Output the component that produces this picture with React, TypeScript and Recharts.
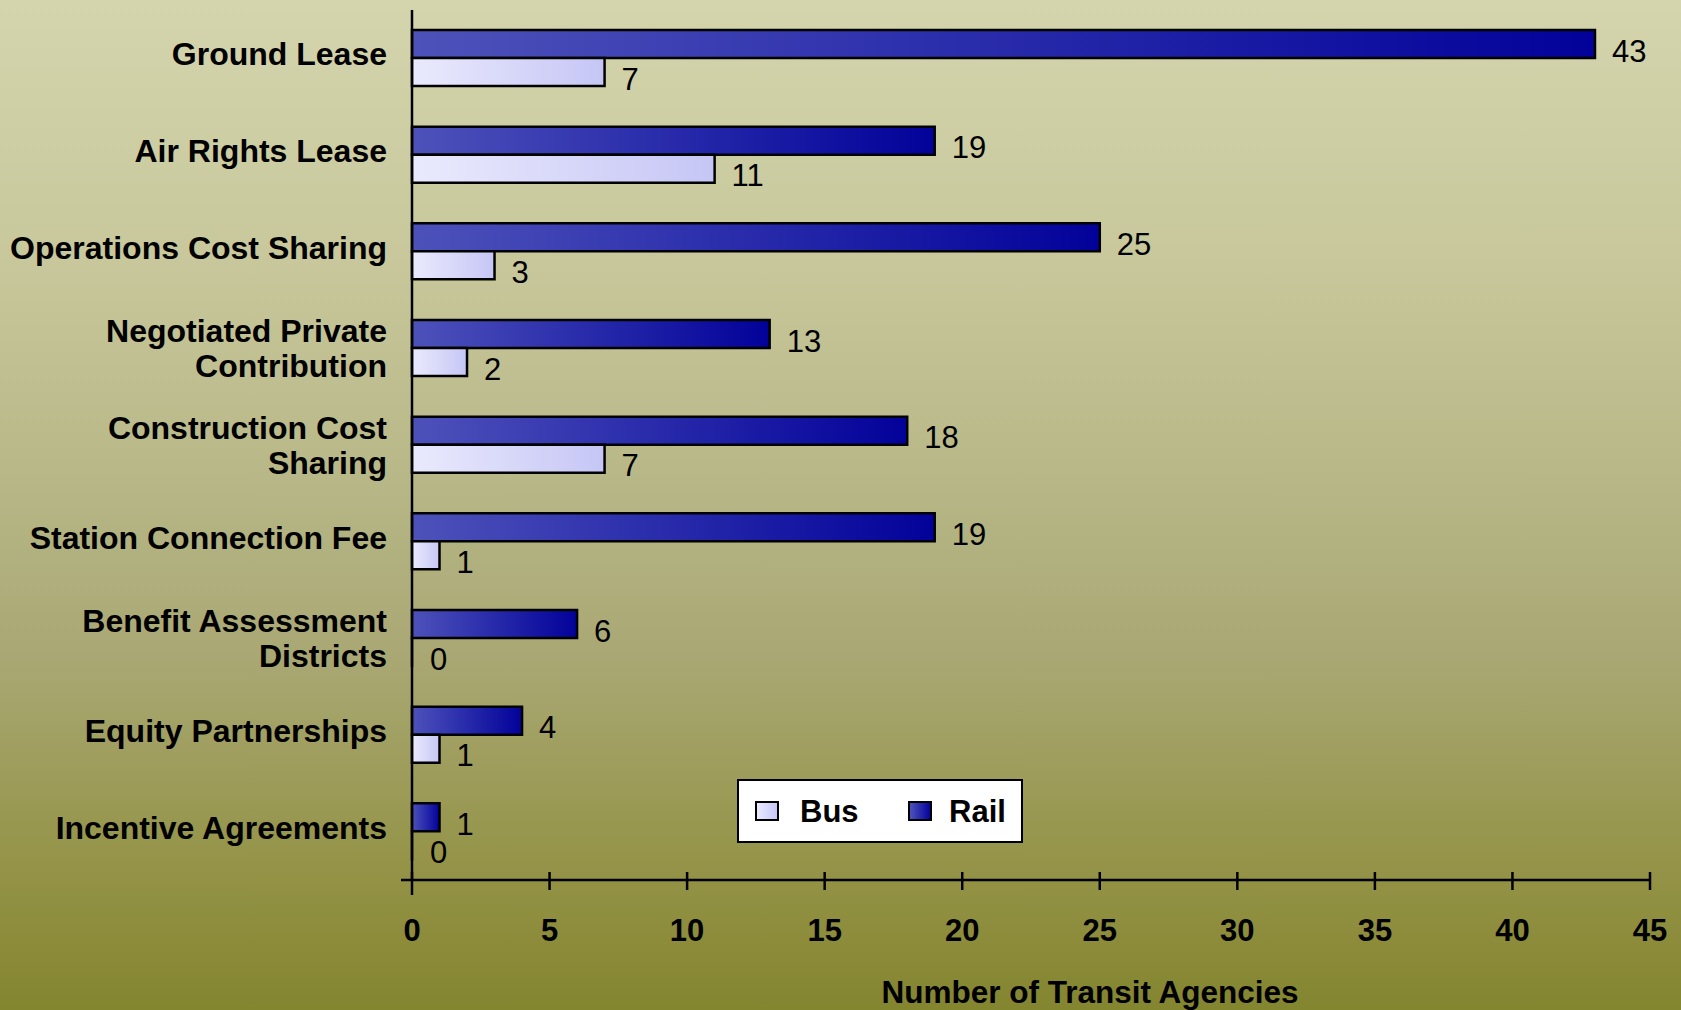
import { BarChart, Bar, XAxis, YAxis, Legend, LabelList } from 'recharts';

const categories = [
  'Ground Lease',
  'Air Rights Lease',
  'Operations Cost Sharing',
  'Negotiated Private Contribution',
  'Construction Cost Sharing',
  'Station Connection Fee',
  'Benefit Assessment Districts',
  'Equity Partnerships',
  'Incentive Agreements',
];

// how the long labels wrap in the original
const labelLines: Record<string, string[]> = {
  'Negotiated Private Contribution': ['Negotiated Private', 'Contribution'],
  'Construction Cost Sharing': ['Construction Cost', 'Sharing'],
  'Benefit Assessment Districts': ['Benefit Assessment', 'Districts'],
};

const railValues = [43, 19, 25, 13, 18, 19, 6, 4, 1];
const busValues = [7, 11, 3, 2, 7, 1, 0, 1, 0];
const xTicks = [0, 5, 10, 15, 20, 25, 30, 35, 40, 45];

const data = categories.map((name, i) => ({ name, rail: railValues[i], bus: busValues[i] }));

const FONT = '"Liberation Sans", Arial, sans-serif';

const CategoryTick = (props: any) => {
  const { x, y, payload } = props;
  const lines = labelLines[payload.value] || [payload.value];
  const lineH = 35;
  const startY = y - ((lines.length - 1) * lineH) / 2 + (lines.length === 1 ? -4 : 0);
  return (
    <text x={x} y={startY} textAnchor="end" fontFamily={FONT} fontSize={32} fontWeight="bold" fill="#000">
      {lines.map((l, i) => (
        <tspan key={l} x={x} y={startY + i * lineH} dominantBaseline="central">
          {l}
        </tspan>
      ))}
    </text>
  );
};

const ValueTick = (props: any) => {
  const { x, y, payload } = props;
  const isZero = payload.value === 0;
  return (
    <g>
      <line x1={x} x2={x} y1={y - 8} y2={y + (isZero ? 15 : 10)} stroke="#000" strokeWidth={2.5} />
      {isZero && <line x1={x - 11} x2={x} y1={y} y2={y} stroke="#000" strokeWidth={2.5} />}
      <text x={x} y={y + 61} textAnchor="middle" fontFamily={FONT} fontSize={31} fontWeight="bold" fill="#000">
        {payload.value}
      </text>
    </g>
  );
};

const ValueLabel = (props: any) => {
  const { x, y, width, height, value } = props;
  const off = value === 0 ? 18 : 17;
  return (
    <text
      x={x + (value === 0 ? 0 : width) + off}
      y={y + height / 2 + 7}
      dominantBaseline="central"
      fontFamily={FONT}
      fontSize={31}
      fill="#000"
    >
      {value}
    </text>
  );
};

const AxisTitle = (props: any) => {
  const { viewBox } = props;
  return (
    <text
      x={viewBox.x + viewBox.width / 2 + 59}
      y={viewBox.y + 123}
      textAnchor="middle"
      fontFamily={FONT}
      fontSize={31.5}
      fontWeight="bold"
      fill="#000"
    >
      Number of Transit Agencies
    </text>
  );
};

const swatch = (bg: string) => ({
  display: 'inline-block',
  width: 24,
  height: 20,
  boxSizing: 'border-box' as const,
  border: '2px solid #000',
  background: bg,
});

const renderLegend = () => (
  <div
    style={{
      width: 286,
      height: 64,
      boxSizing: 'border-box',
      background: '#fff',
      border: '2.5px solid #000',
      position: 'relative',
      fontFamily: FONT,
      fontSize: 31,
      fontWeight: 'bold',
    }}
  >
    <span style={{ ...swatch('linear-gradient(to right, #eaeafd, #c6c6f6)'), position: 'absolute', left: 16, top: 20 }} />
    <span style={{ position: 'absolute', left: 61, top: 13, lineHeight: '36px' }}>Bus</span>
    <span style={{ ...swatch('linear-gradient(to right, #4d52ba, #04049a)'), position: 'absolute', left: 169, top: 20 }} />
    <span style={{ position: 'absolute', left: 210, top: 13, lineHeight: '36px' }}>Rail</span>
  </div>
);

export default function App() {
  return (
    <div
      style={{
        position: 'absolute',
        left: 0,
        top: 0,
        width: 1681,
        height: 1010,
        overflow: 'hidden',
        background:
          'linear-gradient(to bottom, #d4d5ad 0%, #c8c89c 25%, #b9b98a 45%, #a9a874 65%, #959449 85%, #84852f 100%)',
      }}
    >
      <BarChart
        width={1681}
        height={1010}
        data={data}
        layout="vertical"
        margin={{ top: 10, right: 31, left: 0, bottom: 0 }}
        barGap={0}
        barSize={28}
      >
        <defs>
          <linearGradient id="railGrad" x1="0" y1="0" x2="1" y2="0">
            <stop offset="0%" stopColor="#4d52ba" />
            <stop offset="100%" stopColor="#02029a" />
          </linearGradient>
          <linearGradient id="busGrad" x1="0" y1="0" x2="1" y2="0">
            <stop offset="0%" stopColor="#eaeafd" />
            <stop offset="100%" stopColor="#c6c6f6" />
          </linearGradient>
        </defs>
        <XAxis
          type="number"
          domain={[0, 45]}
          ticks={xTicks}
          height={130}
          tickSize={0}
          tickMargin={0}
          tickLine={false}
          axisLine={{ stroke: '#000', strokeWidth: 2.5 }}
          tick={<ValueTick />}
          interval={0}
          label={<AxisTitle />}
        />
        <YAxis
          type="category"
          dataKey="name"
          width={412}
          tickSize={0}
          tickMargin={25}
          tickLine={false}
          axisLine={{ stroke: '#000', strokeWidth: 2.5 }}
          tick={<CategoryTick />}
          interval={0}
        />
        <Legend
          layout="horizontal"
          verticalAlign="middle"
          align="center"
          content={renderLegend}
          wrapperStyle={{ left: 737, top: 779, width: 286, height: 64 }}
        />
        <Bar dataKey="rail" name="Rail" fill="url(#railGrad)" stroke="#000" strokeWidth={2.5} isAnimationActive={false}>
          <LabelList dataKey="rail" content={<ValueLabel />} />
        </Bar>
        <Bar
          dataKey="bus"
          name="Bus"
          fill="url(#busGrad)"
          stroke="#000"
          strokeWidth={2.5}
          minPointSize={0.01}
          isAnimationActive={false}
        >
          <LabelList dataKey="bus" content={<ValueLabel />} />
        </Bar>
      </BarChart>
    </div>
  );
}
